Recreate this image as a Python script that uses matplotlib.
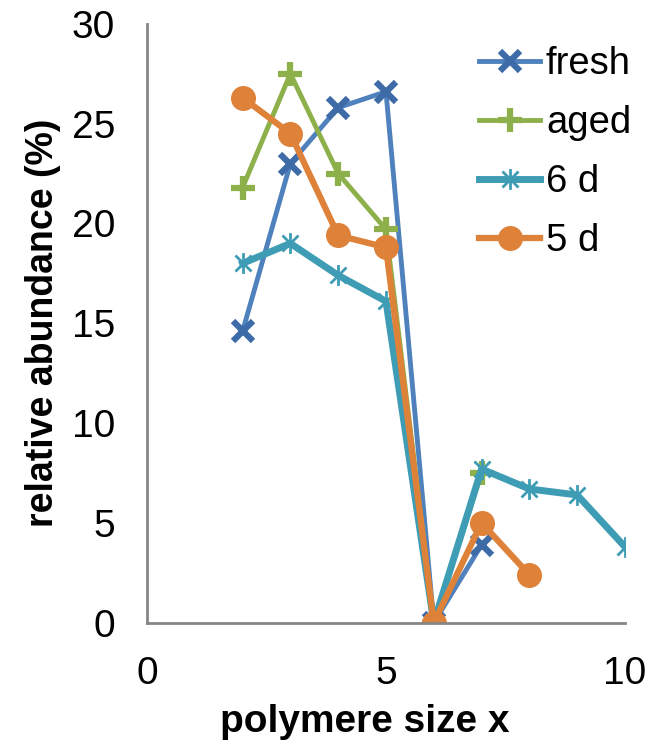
import matplotlib.pyplot as plt
from matplotlib.path import Path

plt.rcParams['font.family'] = ['Liberation Sans', 'DejaVu Sans']

# relative abundance (%) per polymere size x
x_fresh = [2, 3, 4, 5, 6, 7]
fresh = [14.6, 23.0, 25.8, 26.6, 0.0, 3.9]

x_aged = [2, 3, 4, 5, 6, 7]
aged = [21.8, 27.5, 22.5, 19.7, 0.0, 7.5]

x_6d = [2, 3, 4, 5, 6, 7, 8, 9, 10]
d6 = [18.0, 19.0, 17.4, 16.1, 0.0, 7.7, 6.7, 6.4, 3.8]

x_5d = [2, 3, 4, 5, 6, 7, 8]
d5 = [26.3, 24.5, 19.4, 18.8, 0.0, 5.0, 2.4]

labels = ['fresh', 'aged', '6 d', '5 d']

# asterisk marker: x plus vertical bar
star = Path([(-1, -1), (1, 1), (-1, 1), (1, -1), (0, -1.3), (0, 1.3)],
            [Path.MOVETO, Path.LINETO, Path.MOVETO, Path.LINETO, Path.MOVETO, Path.LINETO])

fig = plt.figure(figsize=(6.66, 7.44), dpi=100)
ax = fig.add_axes([0.2207, 0.163, 0.7177, 0.805])

ax.plot(x_fresh, fresh, color='#4F81BD', lw=3.5, marker='x', ms=15, mew=4.5,
        mec='#3D6BA8', label=labels[0])
ax.plot(x_aged, aged, color='#8DB04B', lw=3.5, marker='+', ms=17, mew=4.5,
        label=labels[1])
ax.plot(x_6d, d6, color='#3E9DB5', lw=5, marker=star, ms=15, mew=2,
        mfc='none', label=labels[2])
ax.plot(x_5d, d5, color='#DE8139', lw=4.5, marker='o', ms=17, label=labels[3])

ax.set_xlim(0, 10)
ax.set_ylim(0, 30)
ax.set_xticks([0, 5, 10])
ax.set_yticks([0, 5, 10, 15, 20, 25, 30])

for s in ['top', 'right']:
    ax.spines[s].set_visible(False)
for s in ['left', 'bottom']:
    ax.spines[s].set_color('#868686')
    ax.spines[s].set_linewidth(2)
ax.tick_params(length=0, labelsize=28)
ax.tick_params(axis='y', pad=23)
ax.tick_params(axis='x', pad=24)

ax.set_xlabel('polymere size x', fontsize=28, fontweight='bold')
ax.xaxis.set_label_coords(0.456, -0.135)
ax.set_ylabel('relative abundance (%)', fontsize=27, fontweight='bold', labelpad=8)

ax.legend(loc='upper right', bbox_to_anchor=(1.085, 1.02), frameon=False,
          fontsize=27.5, handlelength=1.6, handletextpad=0.15, labelspacing=0.6)

fig.savefig('out.png', dpi=100)
